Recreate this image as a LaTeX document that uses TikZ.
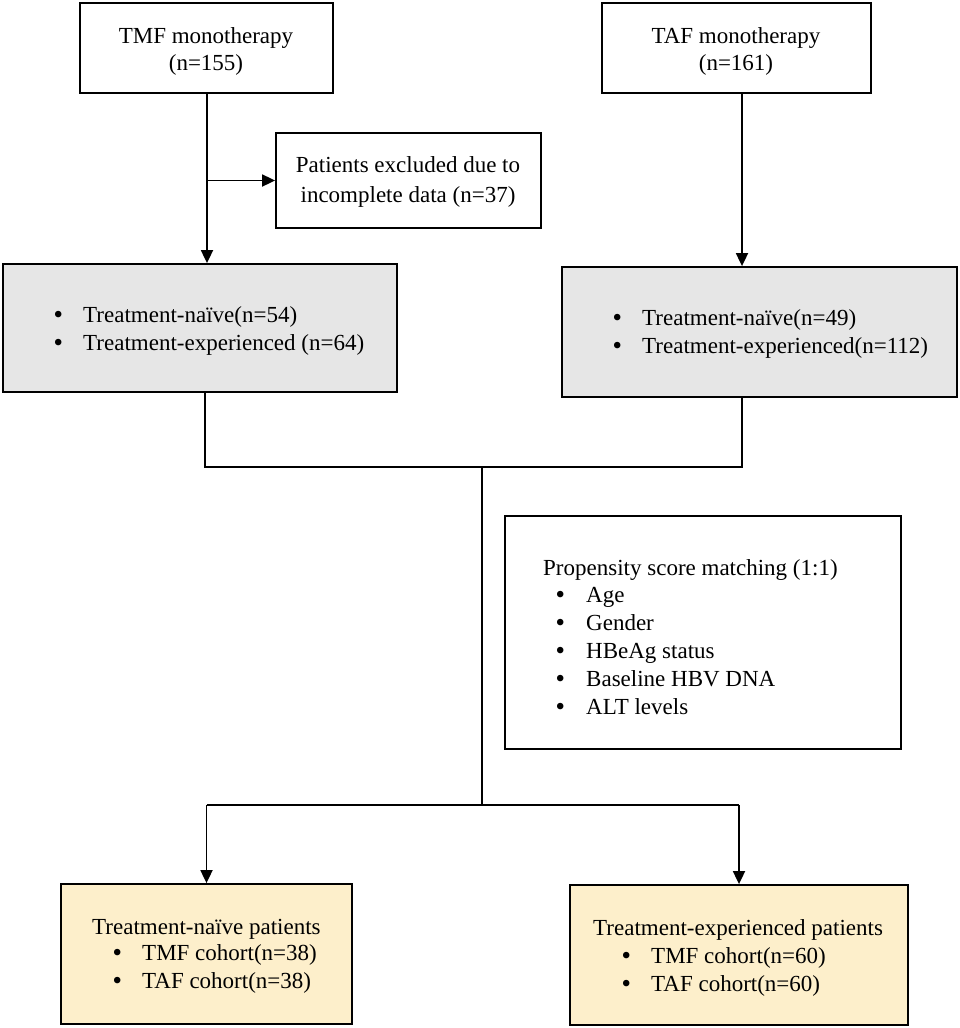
\documentclass[tikz,border=0pt]{standalone}
\usepackage{fontspec}
\setmainfont{Liberation Serif}
\usetikzlibrary{arrows.meta}
\definecolor{boxgray}{HTML}{E6E6E6}
\definecolor{boxyellow}{HTML}{FDEFCB}
\begin{document}
\begin{tikzpicture}[x=1pt,y=-1pt,
  box/.style={draw=black,line width=1.8pt,rectangle,inner sep=0pt,minimum width=#1},
  txt/.style={inner sep=0pt,anchor=base west,font=\fontsize{23}{28}\selectfont},
  bul/.style={inner sep=0pt,anchor=base west,font=\fontsize{24}{28}\selectfont\bfseries},
  ctxt/.style={inner sep=0pt,anchor=base,font=\fontsize{23}{28}\selectfont},
  conn/.style={line width=1.8pt},
  arr/.style={line width=1.8pt,-{Triangle[length=13pt,width=12pt]}}]
\useasboundingbox (0,0) rectangle (960,1028);
% boxes
\node[box=253pt,minimum height=90pt] (tmf) at (206.5,48) {};
\node[box=265pt,minimum height=95pt] (excl) at (408.5,180.5) {};
\node[box=269pt,minimum height=90pt] (taf) at (736.5,48) {};
\node[box=394pt,minimum height=128pt,fill=boxgray] (lgray) at (200,328) {};
\node[box=395pt,minimum height=130pt,fill=boxgray] (rgray) at (759.5,332) {};
\node[box=396pt,minimum height=233pt] (psm) at (703,632.5) {};
\node[box=291pt,minimum height=140pt,fill=boxyellow] (bnaive) at (206.5,954) {};
\node[box=338pt,minimum height=140pt,fill=boxyellow] (bexp) at (739,955) {};
% texts
\node[ctxt] (tmf1) at (206,43) {TMF monotherapy};
\node[ctxt] (tmf2) at (206,70) {(n=155)};
\node[ctxt] (taf1) at (736,43) {TAF monotherapy};
\node[ctxt] (taf2) at (736,70) {(n=161)};
\node[ctxt] (ex1) at (408,172) {Patients excluded due to};
\node[ctxt] (ex2) at (408,202) {incomplete data (n=37)};
% left gray
\node[bul] (lb1) at (54,322) {•};
\node[txt] (lt1) at (83,322) {Treatment-naïve(n=54)};
\node[bul] (lb2) at (54,350) {•};
\node[txt] (lt2) at (83,350) {Treatment-experienced (n=64)};
% right gray
\node[bul] (rb1) at (613,325) {•};
\node[txt] (rt1) at (642,325) {Treatment-naïve(n=49)};
\node[bul] (rb2) at (613,353) {•};
\node[txt] (rt2) at (642,353) {Treatment-experienced(n=112)};
% psm
\node[txt] (p0) at (543,575) {Propensity score matching (1:1)};
\node[bul] (pb1) at (556,602) {•};
\node[txt] (p1) at (586,602) {Age};
\node[bul] (pb2) at (556,630) {•};
\node[txt] (p2) at (586,630) {Gender};
\node[bul] (pb3) at (556,658) {•};
\node[txt] (p3) at (586,658) {HBeAg status};
\node[bul] (pb4) at (556,686) {•};
\node[txt] (p4) at (586,686) {Baseline HBV DNA};
\node[bul] (pb5) at (556,714) {•};
\node[txt] (p5) at (586,714) {ALT levels};
% bottom left
\node[txt] (bn0) at (92,934) {Treatment-naïve patients};
\node[bul] (bnb1) at (113,960) {•};
\node[txt] (bn1) at (142,960) {TMF cohort(n=38)};
\node[bul] (bnb2) at (113,988) {•};
\node[txt] (bn2) at (142,988) {TAF cohort(n=38)};
% bottom right
\node[txt] (be0) at (593,935) {Treatment-experienced patients};
\node[bul] (beb1) at (622,963) {•};
\node[txt] (be1) at (651,963) {TMF cohort(n=60)};
\node[bul] (beb2) at (622,991) {•};
\node[txt] (be2) at (651,991) {TAF cohort(n=60)};
% connectors
\coordinate (jl) at (205,467);
\coordinate (jr) at (742,467);
\coordinate (jc) at (482,467);
\coordinate (split) at (482,805);
\coordinate (sl) at (206.5,805);
\coordinate (sr) at (739,805);
\coordinate (tmfx) at (207,93);
\coordinate (tafx) at (742,93);
\draw[arr] (tmfx) -- (tmfx |- lgray.north);
\draw[arr] (tmfx |- excl.west) -- (excl.west);
\draw[arr] (tafx) -- (tafx |- rgray.north);
\draw[conn] (lgray.south -| jl) -- (jl) -- (jr) -- (rgray.south -| jr);
\draw[conn] (jc) -- (split);
\draw[conn] (sl) -- (sr);
\draw[arr] (sl) -- (bnaive.north);
\draw[arr] (sr) -- (bexp.north);
\end{tikzpicture}
\end{document}
